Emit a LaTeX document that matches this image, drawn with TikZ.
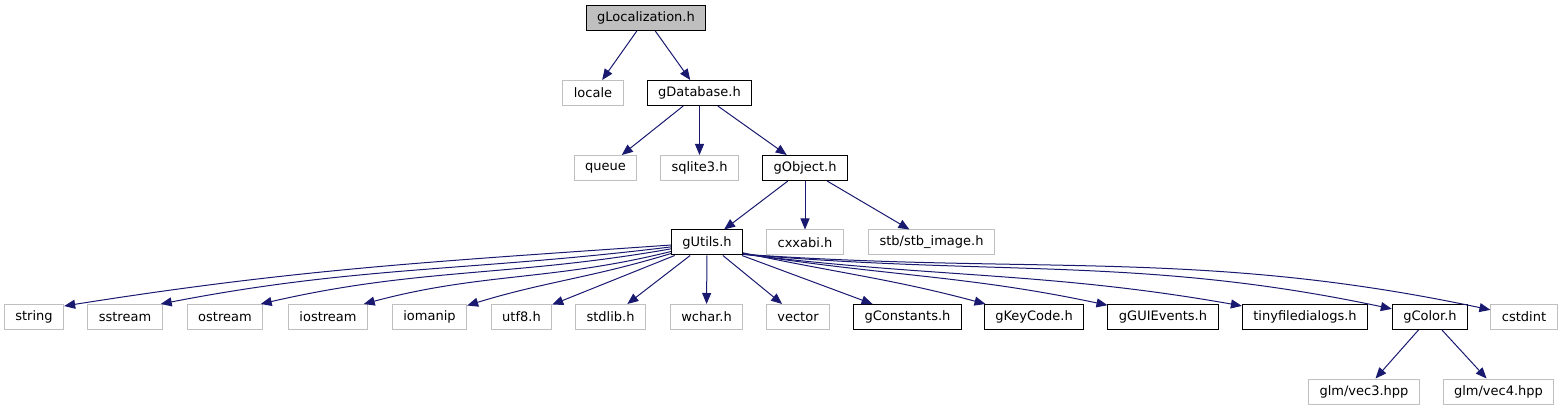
\documentclass[tikz,border=0pt]{standalone}
\usepackage{fontspec}
\setmainfont{DejaVu Sans}
\usetikzlibrary{arrows.meta}
\definecolor{edgeblue}{HTML}{191970}
\definecolor{extgray}{HTML}{BFBFBF}
\begin{document}
\begin{tikzpicture}[x=1pt, y=-1pt,
  every node/.style={font=\fontsize{13pt}{15pt}\selectfont, inner xsep=11pt, inner ysep=0pt,
    minimum height=25pt, line width=1pt},
  hdr/.style={draw=black},
  ext/.style={draw=extgray},
  e/.style={draw=edgeblue, line width=1pt, -{Triangle[length=11pt,width=9pt]}}]
  \useasboundingbox (0,0) rectangle (1565,411);
  % top levels
  \node[hdr, fill=extgray] (gloc) at (646,18) {gLocalization.h};
  \node[ext] (locale) at (593,93) {locale};
  \node[hdr] (gdb) at (699.5,93) {gDatabase.h};
  \node[ext] (queue) at (605.5,168) {queue};
  \node[ext] (sqlite) at (699.5,168) {sqlite3.h};
  \node[hdr] (gobj) at (805,168) {gObject.h};
  \node[hdr] (gutils) at (707,242.5) {gUtils.h};
  \node[ext] (cxxabi) at (805,242.5) {cxxabi.h};
  \node[ext] (stb) at (931.5,242.5) {stb/stb\_image.h};
  % includes of gUtils.h
  \node[ext] (string) at (34,317) {string};
  \node[ext] (sstream) at (125,317) {sstream};
  \node[ext] (ostream) at (225,317) {ostream};
  \node[ext] (iostream) at (328,317) {iostream};
  \node[ext] (iomanip) at (429.5,317) {iomanip};
  \node[ext] (utf) at (521.5,317) {utf8.h};
  \node[ext] (stdlib) at (610.5,317) {stdlib.h};
  \node[ext] (wchar) at (706.5,317) {wchar.h};
  \node[ext] (vector) at (798,317) {vector};
  \node[hdr] (gconst) at (907.5,317) {gConstants.h};
  \node[hdr] (gkey) at (1034,317) {gKeyCode.h};
  \node[hdr] (gevents) at (1163,317) {gGUIEvents.h};
  \node[hdr] (tinyfd) at (1305,317) {tinyfiledialogs.h};
  \node[hdr] (gcolor) at (1430,317) {gColor.h};
  \node[ext] (cstdint) at (1524,317) {cstdint};
  \node[ext] (vecthree) at (1364,391.5) {glm/vec3.hpp};
  \node[ext] (vecfour) at (1498.5,391.5) {glm/vec4.hpp};
  % edges
  \draw[e] (gloc) -- (locale);
  \draw[e] (gloc) -- (gdb);
  \draw[e] (gdb) -- (queue);
  \draw[e] (gdb) -- (sqlite);
  \draw[e] (gdb) -- (gobj);
  \draw[e] (gobj) -- (gutils);
  \draw[e] (gobj) -- (cxxabi);
  \draw[e] (gobj) -- (stb);
  \draw[e] (gutils) to[out=184, in=9] (string.20);
  \draw[e] (gutils) to[out=187, in=11] (sstream.20);
  \draw[e] (gutils) to[out=190, in=13] (ostream.20);
  \draw[e] (gutils) to[out=194, in=15] (iostream.20);
  \draw[e] (gutils) to[out=197, in=17] (iomanip);
  \draw[e] (gutils) -- (utf);
  \draw[e] (gutils) -- (stdlib);
  \draw[e] (gutils) -- (wchar);
  \draw[e] (gutils) -- (vector);
  \draw[e] (gutils) -- (gconst);
  \draw[e] (gutils.-16) to[out=-12, in=165] (gkey);
  \draw[e] (gutils.-17) to[out=-9, in=168] (gevents);
  \draw[e] (gutils.-18) to[out=-7, in=170] (tinyfd);
  \draw[e] (gutils.-18) to[out=-5, in=168] (gcolor);
  \draw[e] (gutils.-18) to[out=-4, in=168] (cstdint);
  \draw[e] (gcolor) -- (vecthree);
  \draw[e] (gcolor) -- (vecfour);
\end{tikzpicture}
\end{document}
